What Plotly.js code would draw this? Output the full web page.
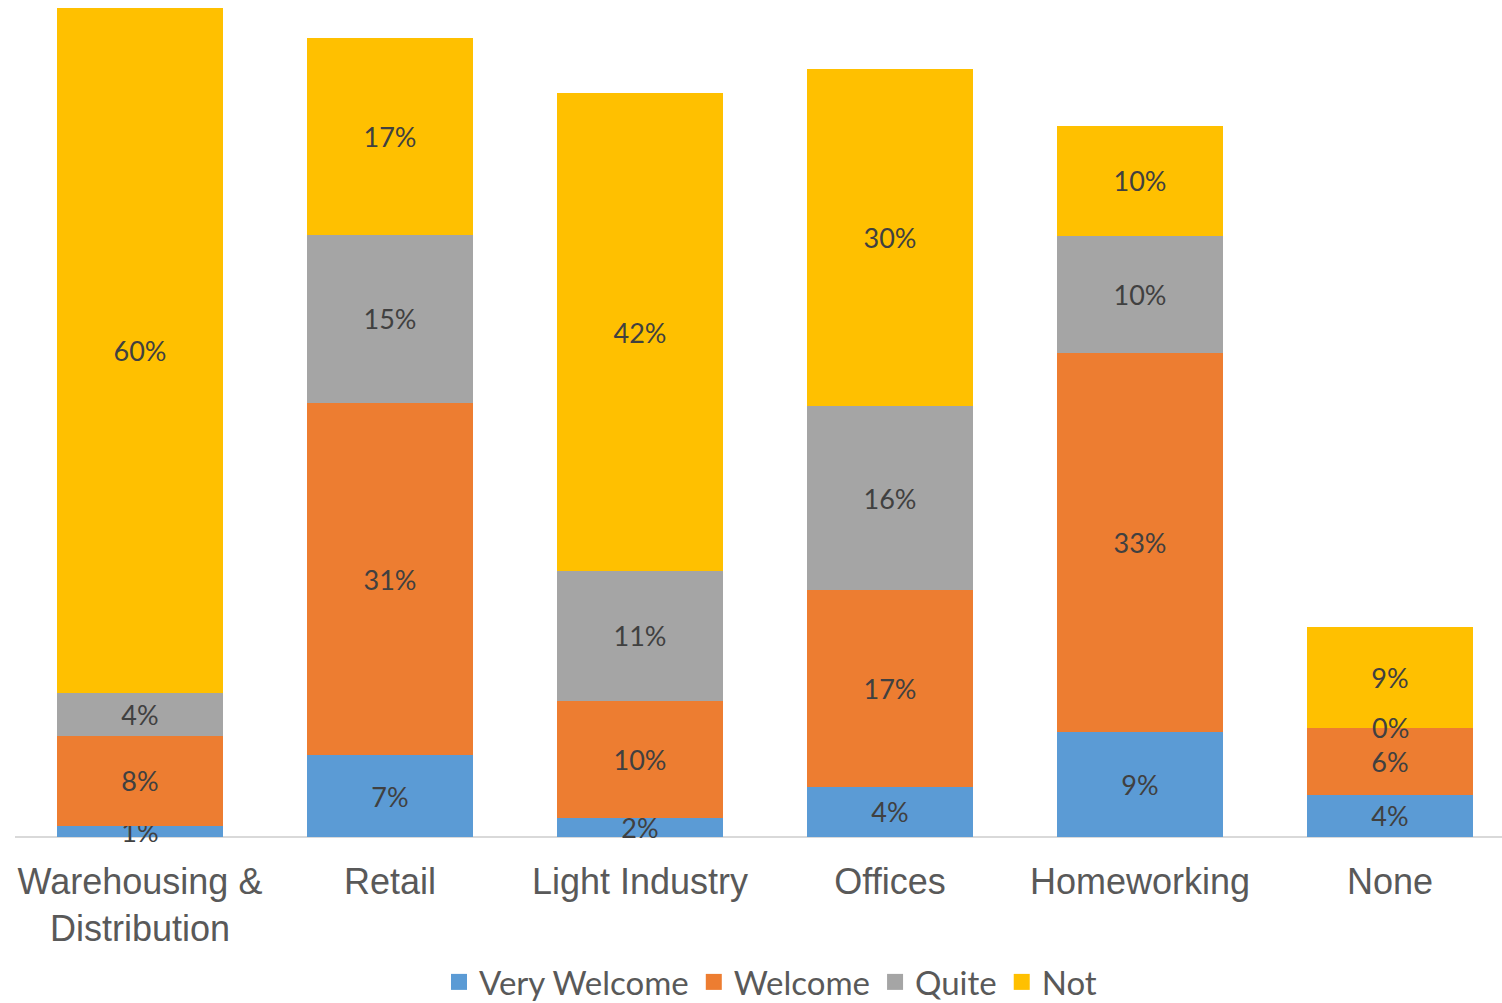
<!DOCTYPE html>
<html>
<head>
<meta charset="utf-8">
<script src="https://cdn.plot.ly/plotly-3.0.1.min.js"></script>
<style>html,body{margin:0;padding:0;background:#fff;}#chart{width:1502px;height:1003px;}</style>
</head>
<body>
<div id="chart"></div>
<script>
const categories = ["Warehousing &<br>Distribution", "Retail", "Light Industry", "Offices", "Homeworking", "None"];
const seriesNames = ["Very Welcome", "Welcome", "Quite", "Not"];
const veryWelcome = [0.010, 0.072, 0.017, 0.044, 0.092, 0.037];
const welcome     = [0.079, 0.310, 0.103, 0.173, 0.334, 0.059];
const quite       = [0.038, 0.148, 0.114, 0.162, 0.103, 0.000];
const notWelcome  = [0.603, 0.173, 0.421, 0.297, 0.097, 0.089];
const colors = ["#5B9BD5", "#ED7D31", "#A5A5A5", "#FFC000"];

const labelFont = {family: "Lato, 'Open Sans', sans-serif", size: 27, color: "#404040"};
const pct = v => Math.round(v * 100) + "%";

const seriesValues = [veryWelcome, welcome, quite, notWelcome];
const barTraces = seriesValues.map((vals, i) => ({
  type: "bar",
  name: seriesNames[i],
  x: categories,
  y: vals,
  showlegend: false,
  marker: {color: colors[i], line: {width: 0}},
  text: vals.map(pct),
  texttemplate: "%{text}",
  textposition: "inside",
  insidetextanchor: "middle",
  constraintext: "none",
  cliponaxis: false,
  textfont: labelFont,
  hoverinfo: "skip"
}));

// legend entries (no data drawn) with larger square swatches
const legendTraces = seriesNames.map((n, i) => ({
  type: "scatter",
  mode: "markers",
  name: n,
  x: [null], y: [null],
  marker: {symbol: "square", size: 18, color: colors[i]},
  hoverinfo: "skip",
  showlegend: true
}));

// labels for zero-height segments (Plotly does not draw text in empty bars)
const annotations = [];
categories.forEach((c, j) => {
  let base = 0;
  seriesValues.forEach(vals => {
    if (vals[j] === 0) {
      annotations.push({
        x: c, y: base, xref: "x", yref: "y",
        text: pct(vals[j]), showarrow: false,
        font: labelFont, xanchor: "center", yanchor: "middle"
      });
    }
    base += vals[j];
  });
});

const layout = {
  width: 1502, height: 1003,
  margin: {l: 15, r: 0, t: 0, b: 155},
  barmode: "stack",
  bargap: 0.336,
  paper_bgcolor: "#ffffff",
  plot_bgcolor: "#ffffff",
  showlegend: true,
  uniformtext: {minsize: 27, mode: "show"},
  annotations: annotations,
  xaxis: {
    type: "category",
    range: [-0.5, 5.448],
    showline: false,
    showgrid: false, zeroline: false, ticks: "",
    tickfont: {family: "'Liberation Sans', Arial, sans-serif", size: 36, color: "#595959"},
    ticklabelstandoff: 9
  },
  yaxis: {
    range: [-0.0097, 0.7368],
    showticklabels: false, ticks: "", showline: false, showgrid: false,
    zeroline: true, zerolinecolor: "#D9D9D9", zerolinewidth: 2
  },
  legend: {
    orientation: "h",
    xref: "container", yref: "container",
    x: 0.513, xanchor: "center",
    y: 0.021, yanchor: "middle",
    font: {family: "Lato, 'Open Sans', sans-serif", size: 33, color: "#595959"},
    itemwidth: 30,
    itemsizing: "trace",
    traceorder: "normal"
  }
};

Plotly.newPlot("chart", barTraces.concat(legendTraces), layout, {displayModeBar: false, staticPlot: true});
</script>
</body>
</html>
